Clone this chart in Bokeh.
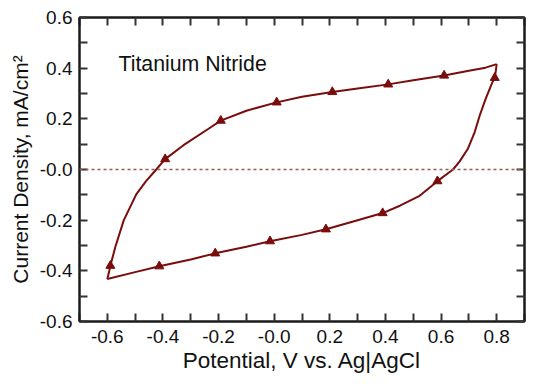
from bokeh.plotting import figure
from bokeh.models import (LinearAxis, FixedTicker, CustomJSTickFormatter, Span, Label, Range1d)
from bokeh.embed import file_html
from bokeh.resources import INLINE

# ---- data ----
fwd_potential = [-0.600, -0.595, -0.589, -0.571, -0.541, -0.496, -0.460, -0.424, -0.392, -0.326,
                 -0.236, -0.192, -0.100, 0.009, 0.100, 0.209, 0.300, 0.410, 0.500, 0.611,
                 0.700, 0.760, 0.800]
fwd_current = [-0.432, -0.410, -0.380, -0.305, -0.201, -0.098, -0.045, 0.000, 0.041, 0.096,
               0.161, 0.193, 0.232, 0.265, 0.287, 0.306, 0.320, 0.336, 0.352, 0.371,
               0.390, 0.402, 0.416]
rev_potential = [0.800, 0.797, 0.793, 0.784, 0.760, 0.739, 0.721, 0.697, 0.667, 0.643, 0.587,
                 0.523, 0.452, 0.390, 0.300, 0.186, 0.100, -0.015, -0.100, -0.212, -0.300,
                 -0.413, -0.500, -0.600]
rev_current = [0.416, 0.390, 0.362, 0.343, 0.278, 0.213, 0.148, 0.083, 0.032, 0.000, -0.046,
               -0.104, -0.143, -0.172, -0.200, -0.236, -0.258, -0.283, -0.305, -0.331, -0.355,
               -0.382, -0.405, -0.432]

marker_potential = [-0.589, -0.392, -0.192, 0.009, 0.209, 0.410, 0.611,
                    0.793, 0.587, 0.390, 0.186, -0.015, -0.212, -0.413]
marker_current = [-0.380, 0.041, 0.193, 0.265, 0.306, 0.336, 0.371,
                  0.362, -0.046, -0.172, -0.236, -0.283, -0.331, -0.382]

x_major_ticks = [-0.6, -0.4, -0.2, 0.0, 0.2, 0.4, 0.6, 0.8]
x_minor_ticks = [-0.7, -0.5, -0.3, -0.1, 0.1, 0.3, 0.5, 0.7, 0.9]
y_major_ticks = [-0.6, -0.4, -0.2, 0.0, 0.2, 0.4, 0.6]
y_minor_ticks = [-0.5, -0.3, -0.1, 0.1, 0.3, 0.5]

title_text = "Titanium Nitride"
x_label = "Potential, V vs. Ag|AgCl"
y_label = "Current Density, mA/cm\u00b2"

FONT = "Liberation Sans"
CURVE = "#7a0c0c"
AXC = "#1a1a1a"

p = figure(width=532, height=375, output_backend="svg", toolbar_location=None,
           x_range=Range1d(-0.7, 0.9), y_range=Range1d(-0.6, 0.6),
           min_border_left=79, min_border_right=8, min_border_top=17, min_border_bottom=40)
p.xgrid.visible = False
p.ygrid.visible = False
p.outline_line_color = AXC
p.outline_line_width = 2
p.background_fill_color = "white"
p.border_fill_color = "white"

fmt = CustomJSTickFormatter(code="return Math.abs(tick) < 1e-9 ? '-0.0' : tick.toFixed(1);")
blank = CustomJSTickFormatter(code="return '';")

def style(ax, labels=True):
    ax.axis_line_color = AXC
    ax.axis_line_width = 2
    ax.major_tick_in = 8
    ax.major_tick_out = 0
    ax.minor_tick_in = 8
    ax.minor_tick_out = 0
    ax.major_tick_line_color = "#333333"
    ax.minor_tick_line_color = "#333333"
    ax.major_tick_line_width = 2
    ax.minor_tick_line_width = 2
    ax.major_label_text_font = FONT
    ax.major_label_text_font_size = "19px"
    ax.major_label_text_color = "#111111"
    ax.axis_label_text_font = FONT
    ax.axis_label_text_font_size = "21px"
    ax.axis_label_text_font_style = "normal"
    ax.axis_label_text_color = "#111111"
    if not labels:
        ax.major_label_standoff = 0

xt = FixedTicker(ticks=x_major_ticks, minor_ticks=x_minor_ticks)
yt = FixedTicker(ticks=y_major_ticks, minor_ticks=y_minor_ticks)

xa = p.xaxis[0]
xa.ticker = xt
xa.formatter = fmt
xa.axis_label = x_label
style(xa)
xa.axis_label_text_font_size = "22.5px"
xa.major_label_standoff = 8
xa.axis_label_standoff = 2

ya = p.yaxis[0]
ya.ticker = yt
ya.formatter = fmt
ya.axis_label = y_label
style(ya)
ya.major_label_standoff = 7
ya.axis_label_standoff = 5

top = LinearAxis(ticker=xt, formatter=blank)
style(top, labels=False)
p.add_layout(top, "above")
right = LinearAxis(ticker=yt, formatter=blank)
style(right, labels=False)
p.add_layout(right, "right")

p.add_layout(Span(location=0, dimension="width", line_color="#9a5a4a",
                  line_dash="3 3", line_width=1.3))

p.line(fwd_potential, fwd_current, line_color=CURVE, line_width=2)
p.line(rev_potential, rev_current, line_color=CURVE, line_width=2)
p.scatter(marker_potential, marker_current, marker="triangle", size=9,
          fill_color=CURVE, line_color=CURVE)

p.add_layout(Label(x=-0.56, y=0.417, text=title_text, text_font=FONT,
                   text_font_size="21.3px", text_color="#111111",
                   text_baseline="alphabetic"))

open("out.html", "w").write(file_html(p, INLINE))
